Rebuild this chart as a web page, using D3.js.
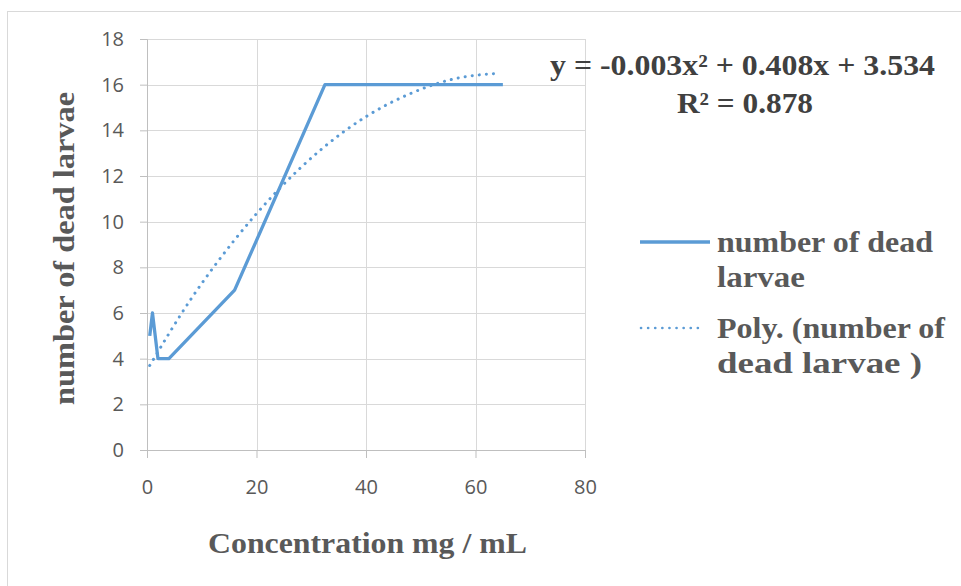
<!DOCTYPE html>
<html>
<head>
<meta charset="utf-8">
<script src="https://cdn.jsdelivr.net/npm/d3@7"></script>
<style>
  body { margin: 0; background: #fff; }
  svg { display: block; }
  .tick text { font-family: "Open Sans", "Liberation Sans", sans-serif; font-size: 20px; fill: #595959; }
  .serif { font-family: "Liberation Serif", "Times New Roman", serif; font-weight: bold; }
</style>
</head>
<body>
<div id="chart"></div>
<script>
// 实测数据：浓度 (mg/mL) 与死亡幼虫数
const concentration = [0.5, 1, 2, 4, 16, 32.5, 65];
const deadLarvae = [5, 6, 4, 4, 7, 16, 16];

// 多项式趋势线，按图上读取的点
const trendX = [0.5, 8, 16, 24, 32, 40, 48, 56, 64.5];
const trendY = [3.7, 6.6, 9.2, 11.4, 13.2, 14.6, 15.6, 16.25, 16.5];

const xTicks = [0, 20, 40, 60, 80];
const yTicks = [0, 2, 4, 6, 8, 10, 12, 14, 16, 18];

const equationText = "y = -0.003x² + 0.408x + 3.534";
const r2Text = "R² = 0.878";
const legendLabels = [["number of dead", "larvae"], ["Poly. (number of", "dead larvae )"]];
const legendWidths = [[216, 88], [228, 205]];
const xTitle = "Concentration mg / mL";
const yTitle = "number of dead larvae";

function drawChart() {
  const W = 961, H = 586;
  const margin = {top: 39, right: 376, bottom: 136, left: 147};
  const width = W - margin.left - margin.right,
        height = H - margin.top - margin.bottom;
  const blue = "#5b9bd5";

  const root = d3.select("#chart").append("svg")
    .attr("width", W).attr("height", H);

  // 图表外框
  root.append("rect")
    .attr("x", 7.5).attr("y", 11.5)
    .attr("width", W).attr("height", H)
    .attr("fill", "none").attr("stroke", "#d9d9d9");

  const svg = root.append("g")
    .attr("transform", `translate(${margin.left},${margin.top})`);

  const x = d3.scaleLinear().domain([0, 80]).range([0, width]);
  const y = d3.scaleLinear().domain([0, 18]).range([height, 0]);

  // 网格线
  svg.append("g").selectAll("line")
    .data(yTicks.filter(d => d > 0))
    .join("line")
    .attr("x1", 0).attr("x2", width)
    .attr("y1", d => Math.round(y(d)) + 0.5).attr("y2", d => Math.round(y(d)) + 0.5)
    .attr("stroke", "#d9d9d9");
  svg.append("g").selectAll("line")
    .data(xTicks.filter(d => d > 0))
    .join("line")
    .attr("y1", 0).attr("y2", height)
    .attr("x1", d => Math.round(x(d)) + 0.5).attr("x2", d => Math.round(x(d)) + 0.5)
    .attr("stroke", "#d9d9d9");

  // 坐标轴
  const xAxis = svg.append("g")
    .attr("transform", `translate(0,${height})`)
    .call(d3.axisBottom(x).tickValues(xTicks).tickSize(8).tickPadding(22));
  const yAxis = svg.append("g")
    .call(d3.axisLeft(y).tickValues(yTicks).tickSize(7).tickPadding(16));
  [xAxis, yAxis].forEach(a => {
    a.select(".domain").attr("stroke", "#bfbfbf");
    a.selectAll(".tick line").attr("stroke", "#bfbfbf");
  });

  // 趋势线（点线）
  const trend = trendX.map((v, i) => [v, trendY[i]]);
  svg.append("path")
    .datum(trend)
    .attr("fill", "none")
    .attr("stroke", blue)
    .attr("stroke-width", 3)
    .attr("stroke-linecap", "round")
    .attr("stroke-dasharray", "0.1 7")
    .attr("d", d3.line().curve(d3.curveMonotoneX).x(d => x(d[0])).y(d => y(d[1])));

  // 数据折线
  const pts = concentration.map((v, i) => [v, deadLarvae[i]]);
  svg.append("path")
    .datum(pts)
    .attr("fill", "none")
    .attr("stroke", blue)
    .attr("stroke-width", 3.3)
    .attr("stroke-linejoin", "round")
    .attr("d", d3.line().x(d => x(d[0])).y(d => y(d[1])));

  // 公式与 R²
  root.append("text").attr("class", "serif")
    .attr("x", 550).attr("y", 75)
    .attr("font-size", 30).attr("fill", "#404040")
    .attr("textLength", 385).attr("lengthAdjust", "spacingAndGlyphs")
    .text(equationText);
  root.append("text").attr("class", "serif")
    .attr("x", 677).attr("y", 113)
    .attr("font-size", 30).attr("fill", "#404040")
    .attr("textLength", 136).attr("lengthAdjust", "spacingAndGlyphs")
    .text(r2Text);

  // 图例
  const legend = root.append("g").attr("transform", "translate(640,0)");
  const legendY = [242, 328];
  legend.append("line")
    .attr("x1", 0).attr("x2", 70).attr("y1", legendY[0]).attr("y2", legendY[0])
    .attr("stroke", blue).attr("stroke-width", 3.3);
  legend.append("line")
    .attr("x1", 1).attr("x2", 62).attr("y1", legendY[1]).attr("y2", legendY[1])
    .attr("stroke", blue).attr("stroke-width", 2.6)
    .attr("stroke-linecap", "round").attr("stroke-dasharray", "0.1 7");
  legendLabels.forEach((lines, i) => {
    lines.forEach((s, j) => {
      legend.append("text").attr("class", "serif")
        .attr("x", 77).attr("y", legendY[i] + 10 + j * 35)
        .attr("font-size", 29).attr("fill", "#595959")
        .attr("textLength", legendWidths[i][j]).attr("lengthAdjust", "spacingAndGlyphs")
        .text(s);
    });
  });

  // 轴标题
  root.append("text").attr("class", "serif")
    .attr("x", 208).attr("y", 553)
    .attr("font-size", 30).attr("fill", "#595959")
    .attr("textLength", 319).attr("lengthAdjust", "spacingAndGlyphs")
    .text(xTitle);
  root.append("text").attr("class", "serif")
    .attr("transform", "translate(74,405) rotate(-90)")
    .attr("font-size", 29).attr("fill", "#595959")
    .attr("textLength", 313).attr("lengthAdjust", "spacingAndGlyphs")
    .text(yTitle);
}

drawChart();
</script>
</body>
</html>
